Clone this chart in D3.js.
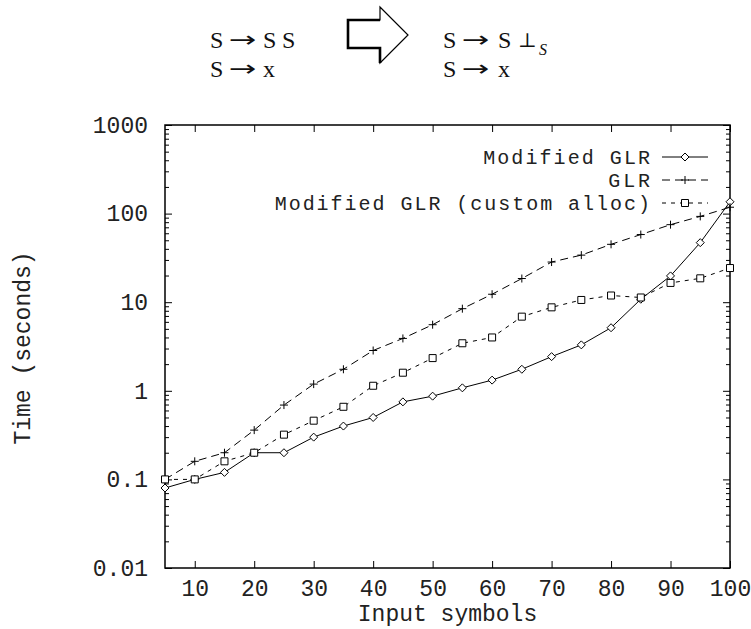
<!DOCTYPE html>
<html>
<head>
<meta charset="utf-8">
<script src="https://cdn.jsdelivr.net/npm/d3@7"></script>
<style>
	body { margin: 0; background: #fff; }
	.tick text, .lbl { font-family: "Liberation Mono", monospace; font-size: 23px; fill: #222; }
	.gram { font-family: "Liberation Serif", "DejaVu Serif", serif; font-size: 24px; fill: #111; }
	.gram .arr { font-family: "DejaVu Sans", sans-serif; font-size: 22px; }
</style>
</head>
<body>
<script>
// input sizes (number of symbols)
var inputSymbols = [5, 10, 15, 20, 25, 30, 35, 40, 45, 50, 55, 60, 65, 70, 75, 80, 85, 90, 95, 100];

// times in seconds
var modifiedGLR = [0.08, 0.1, 0.12, 0.2, 0.2, 0.3, 0.4, 0.5, 0.75, 0.87, 1.08, 1.32, 1.75, 2.43, 3.3, 5.15, 10.8, 19.8, 47, 136];
var plainGLR = [0.1, 0.16, 0.2, 0.36, 0.69, 1.19, 1.75, 2.85, 3.9, 5.57, 8.45, 12.3, 18.5, 28.4, 34, 45, 58, 75, 93, 118];
var customAlloc = [0.1, 0.1, 0.16, 0.2, 0.32, 0.46, 0.66, 1.14, 1.6, 2.34, 3.44, 4.0, 6.87, 8.75, 10.6, 11.9, 11.3, 16.5, 18.6, 24.3];

var seriesNames = ["Modified GLR", "GLR", "Modified GLR (custom alloc)"];

var xTicks = [10, 20, 30, 40, 50, 60, 70, 80, 90, 100];
var yTicks = [0.01, 0.1, 1, 10, 100, 1000];

// grammar before / after
var grammarBefore = [["S", "\u2192", "S", "S"], ["S", "\u2192", "x"]];
var grammarAfter = [["S", "\u2192", "S", "\u22A5"], ["S", "\u2192", "x"]];

buildChart();

function buildChart() {
	var svg = d3.select("body").append("svg")
		.attr("width", 751)
		.attr("height", 629);

	var left = 165, right = 730, top = 125, bottom = 568;

	var x = d3.scaleLinear()
		.domain([5, 100])
		.range([left, right]);

	var y = d3.scaleLog()
		.domain([0.01, 1000])
		.range([bottom, top]);

	var minorTicks = [];
	yTicks.slice(0, -1).forEach(function(d) {
		for (var k = 2; k < 10; k++) minorTicks.push(d * k);
	});

	var series = [
		{ name: seriesNames[0], values: modifiedGLR, dash: null, mark: "diamond" },
		{ name: seriesNames[1], values: plainGLR, dash: "8,5", mark: "plus" },
		{ name: seriesNames[2], values: customAlloc, dash: "4,5", mark: "square" }
	];

	// header: grammar transformation
	var gx = [[210, 229, 263, 282], [210, 229, 263]];
	var gx2 = [[443, 462, 498, 518], [443, 462, 498]];
	var gy = [48, 77];
	var head = svg.append("g").attr("class", "gram");
	function putRow(row, xs, yy) {
		row.forEach(function(t, j) {
			var tx = head.append("text").text(t);
			if (t == "\u2192") {
				// the TeX arrow is longer than the font's one
				tx.attr("class", "arr")
					.attr("transform", "translate(" + xs[j] + "," + (yy - 1) + ") scale(1.5,1)");
			} else {
				tx.attr("x", xs[j]).attr("y", yy);
			}
			if (t == "\u22A5") tx.style("font-size", "20px").attr("y", yy - 1);
		});
	}
	grammarBefore.forEach(function(row, i) { putRow(row, gx[i], gy[i]); });
	grammarAfter.forEach(function(row, i) { putRow(row, gx2[i], gy[i]); });
	head.append("text")
		.attr("x", 539).attr("y", 55)
		.style("font-size", "16px")
		.style("font-style", "italic")
		.text("S");

	// big hollow arrow
	svg.append("path")
		.attr("d", "M348,20H380V7L408,35L380,63V48H348Z")
		.attr("fill", "none")
		.attr("stroke", "#000")
		.attr("stroke-width", 1.2);
	svg.append("path")
		.attr("d", "M380,20H348V48H380V63")
		.attr("fill", "none")
		.attr("stroke", "#000")
		.attr("stroke-width", 2.6);

	// axes, ticks pointing inward
	var fmt = function(d) { return String(d); };

	svg.append("g")
		.attr("transform", "translate(" + left + ",0)")
		.call(d3.axisLeft(y).tickValues(yTicks).tickFormat(fmt).tickSize(-7).tickPadding(17))
		.call(cleanAxis);
	svg.append("g")
		.attr("transform", "translate(" + left + ",0)")
		.call(d3.axisLeft(y).tickValues(minorTicks).tickFormat("").tickSize(-4))
		.call(cleanAxis);
	svg.append("g")
		.attr("transform", "translate(" + right + ",0)")
		.call(d3.axisRight(y).tickValues(yTicks).tickFormat("").tickSize(-7))
		.call(cleanAxis);
	svg.append("g")
		.attr("transform", "translate(" + right + ",0)")
		.call(d3.axisRight(y).tickValues(minorTicks).tickFormat("").tickSize(-4))
		.call(cleanAxis);
	svg.append("g")
		.attr("transform", "translate(0," + bottom + ")")
		.call(d3.axisBottom(x).tickValues(xTicks).tickFormat(fmt).tickSize(-7).tickPadding(12))
		.call(cleanAxis);
	svg.append("g")
		.attr("transform", "translate(0," + top + ")")
		.call(d3.axisTop(x).tickValues(xTicks).tickFormat("").tickSize(-7))
		.call(cleanAxis);

	svg.append("rect")
		.attr("x", left).attr("y", top)
		.attr("width", right - left).attr("height", bottom - top)
		.attr("fill", "none")
		.attr("stroke", "#000")
		.attr("stroke-width", 1.5);

	// axis titles
	svg.append("text")
		.attr("class", "lbl")
		.attr("text-anchor", "middle")
		.attr("x", (left + right) / 2)
		.attr("y", 621)
		.text("Input symbols");
	svg.append("text")
		.attr("class", "lbl")
		.attr("text-anchor", "middle")
		.attr("transform", "translate(30,348) rotate(-90)")
		.text("Time (seconds)");

	var line = d3.line()
		.x(function(d, i) { return x(inputSymbols[i]); })
		.y(function(d) { return y(d); });

	series.forEach(function(s, si) {
		svg.append("path")
			.datum(s.values)
			.attr("d", line)
			.attr("fill", "none")
			.attr("stroke", "#000")
			.attr("stroke-width", 1)
			.attr("stroke-dasharray", s.dash);

		s.values.forEach(function(v, i) {
			drawMark(svg, s.mark, x(inputSymbols[i]), y(v));
		});

		// legend entry
		var ly = 157 + si * 23;
		svg.append("text")
			.attr("class", "lbl")
			.style("font-size", "20px")
			.attr("text-anchor", "end")
			.attr("x", 650)
			.attr("y", ly)
			.attr("dy", "0.35em")
			.attr("textLength", s.name.length * 13.9)
			.attr("lengthAdjust", "spacing")
			.text(s.name);
		svg.append("line")
			.attr("x1", 662).attr("x2", 708)
			.attr("y1", ly).attr("y2", ly)
			.attr("stroke", "#000")
			.attr("stroke-width", 1)
			.attr("stroke-dasharray", s.dash);
		drawMark(svg, s.mark, 685, ly);
	});
}

function cleanAxis(g) {
	g.select(".domain").remove();
	g.selectAll(".tick line").attr("stroke", "#000").attr("stroke-width", 1);
}

function drawMark(svg, type, cx, cy) {
	var p;
	if (type == "diamond") p = "M0,-4L4,0L0,4L-4,0Z";
	else if (type == "plus") p = "M-4,0H4M0,-4V4";
	else p = "M-3.5,-3.5H3.5V3.5H-3.5Z";
	svg.append("path")
		.attr("transform", "translate(" + cx + "," + cy + ")")
		.attr("d", p)
		.attr("fill", type == "plus" ? "none" : "#fff")
		.attr("stroke", "#000")
		.attr("stroke-width", 1);
}
</script>
</body>
</html>
